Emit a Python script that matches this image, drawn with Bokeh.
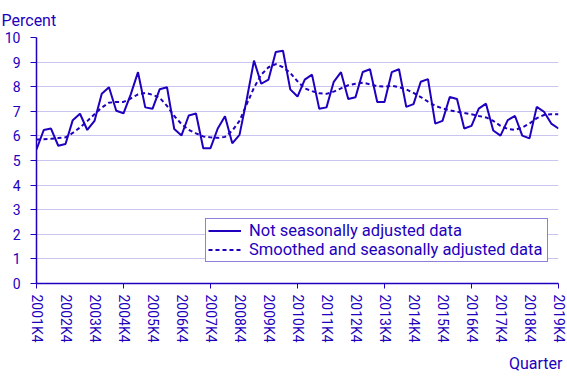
import math
from bokeh.plotting import figure
from bokeh.models import (ColumnDataSource, FixedTicker, Legend, LegendItem, Title)
from bokeh.embed import file_html
from bokeh.resources import INLINE

# ---- data ----
years = list(range(2001, 2020))
tick_labels = [f"{y}K4" for y in years]

not_adjusted = [5.45, 6.24, 6.30, 5.60, 5.67, 6.64, 6.90, 6.24, 6.61, 7.71,
                7.98, 7.02, 6.92, 7.69, 8.59, 7.16, 7.10, 7.90, 7.98, 6.28,
                6.02, 6.83, 6.91, 5.50, 5.50, 6.30, 6.80, 5.70, 6.04, 7.49,
                9.06, 8.12, 8.29, 9.41, 9.46, 7.89, 7.60, 8.29, 8.49, 7.10,
                7.16, 8.20, 8.59, 7.50, 7.57, 8.60, 8.71, 7.38, 7.38, 8.59,
                8.71, 7.18, 7.29, 8.20, 8.31, 6.50, 6.61, 7.58, 7.50, 6.30,
                6.41, 7.11, 7.31, 6.22, 6.01, 6.64, 6.81, 6.01, 5.90, 7.18,
                6.98, 6.50, 6.30]

smoothed = [5.85, 5.86, 5.88, 5.91, 5.94, 6.12, 6.34, 6.60, 6.88, 7.15,
            7.35, 7.38, 7.38, 7.52, 7.69, 7.75, 7.67, 7.55, 7.22, 6.81,
            6.48, 6.25, 6.10, 5.98, 5.94, 5.92, 5.96, 6.21, 6.61, 7.29,
            7.96, 8.49, 8.79, 8.92, 8.79, 8.56, 8.22, 7.93, 7.82, 7.73,
            7.71, 7.80, 7.93, 8.06, 8.12, 8.16, 8.10, 8.02, 8.00, 8.04,
            7.98, 7.89, 7.75, 7.58, 7.39, 7.22, 7.12, 7.04, 6.98, 6.93,
            6.88, 6.81, 6.75, 6.61, 6.41, 6.28, 6.25, 6.34, 6.50, 6.72,
            6.85, 6.88, 6.88]

# ---- styling ----
BLUE = "#1e00be"
GRID = "#c8c5ef"
FONT = "Roboto"

n = len(not_adjusted)
quarters = list(range(n))
src = ColumnDataSource(dict(q=quarters, raw=not_adjusted, smooth=smoothed))

p = figure(width=567, height=378, output_backend="svg", toolbar_location=None,
           x_range=(0, n - 1), y_range=(0, 10),
           min_border_left=36, min_border_right=9, min_border_top=36,
           min_border_bottom=94)
p.outline_line_color = None
p.background_fill_color = "white"

r1 = p.line("q", "raw", source=src, line_color=BLUE, line_width=2)
r2 = p.line("q", "smooth", source=src, line_color=BLUE, line_width=2,
            line_dash="4 3")

# x axis
label_pos = list(range(0, n, 4))
p.xaxis.ticker = FixedTicker(ticks=label_pos, minor_ticks=list(range(0, n, 12)))
p.xaxis.major_label_overrides = {pos: lab for pos, lab in zip(label_pos, tick_labels)}
p.xaxis.major_label_orientation = "vertical"
p.xaxis.major_tick_line_color = None
p.xaxis.major_tick_out = 0
p.xaxis.major_tick_in = 0
p.xaxis.minor_tick_line_color = BLUE
p.xaxis.minor_tick_out = 5
p.xaxis.minor_tick_in = 0
p.xaxis.major_label_standoff = 6
p.xaxis.axis_line_color = BLUE
p.xaxis.axis_line_width = 1.5
p.xaxis.major_label_text_color = BLUE
p.xaxis.major_label_text_font = FONT
p.xaxis.major_label_text_font_size = "14px"

# y axis
p.yaxis.ticker = FixedTicker(ticks=list(range(0, 11)))
p.yaxis.axis_line_color = BLUE
p.yaxis.axis_line_width = 1.5
p.yaxis.major_tick_line_color = BLUE
p.yaxis.major_tick_out = 6
p.yaxis.major_tick_in = 0
p.yaxis.minor_tick_line_color = None
p.yaxis.major_label_standoff = 10
p.yaxis.major_label_text_color = BLUE
p.yaxis.major_label_text_font = FONT
p.yaxis.major_label_text_font_size = "14px"

p.xgrid.grid_line_color = None
p.ygrid.grid_line_color = GRID
p.ygrid.grid_line_width = 1

# titles
p.title.text = "Percent"
p.title.align = "left"
p.title.offset = -35
p.title.standoff = 16
p.title.text_color = BLUE
p.title.text_font = FONT
p.title.text_font_size = "16px"
p.title.text_font_style = "normal"

p.add_layout(Title(text="Quarter", align="right", text_color=BLUE,
                   text_font=FONT, text_font_size="16px",
                   text_font_style="normal", offset=-4, standoff=12), "below")

legend = Legend(items=[LegendItem(label="Not seasonally adjusted data", renderers=[r1]),
                       LegendItem(label="Smoothed and seasonally adjusted data", renderers=[r2])],
                location=(169, 21))
legend.label_text_color = BLUE
legend.label_text_font = FONT
legend.label_text_font_size = "16.5px"
legend.border_line_color = BLUE
legend.border_line_width = 1
legend.background_fill_color = "white"
legend.background_fill_alpha = 1
legend.glyph_width = 33
legend.glyph_height = 17
legend.label_height = 17
legend.label_width = 296
legend.label_standoff = 8
legend.spacing = 0
legend.padding = 2
legend.margin = 0
p.add_layout(legend, "center")

open("out.html", "w").write(file_html(p, INLINE))
